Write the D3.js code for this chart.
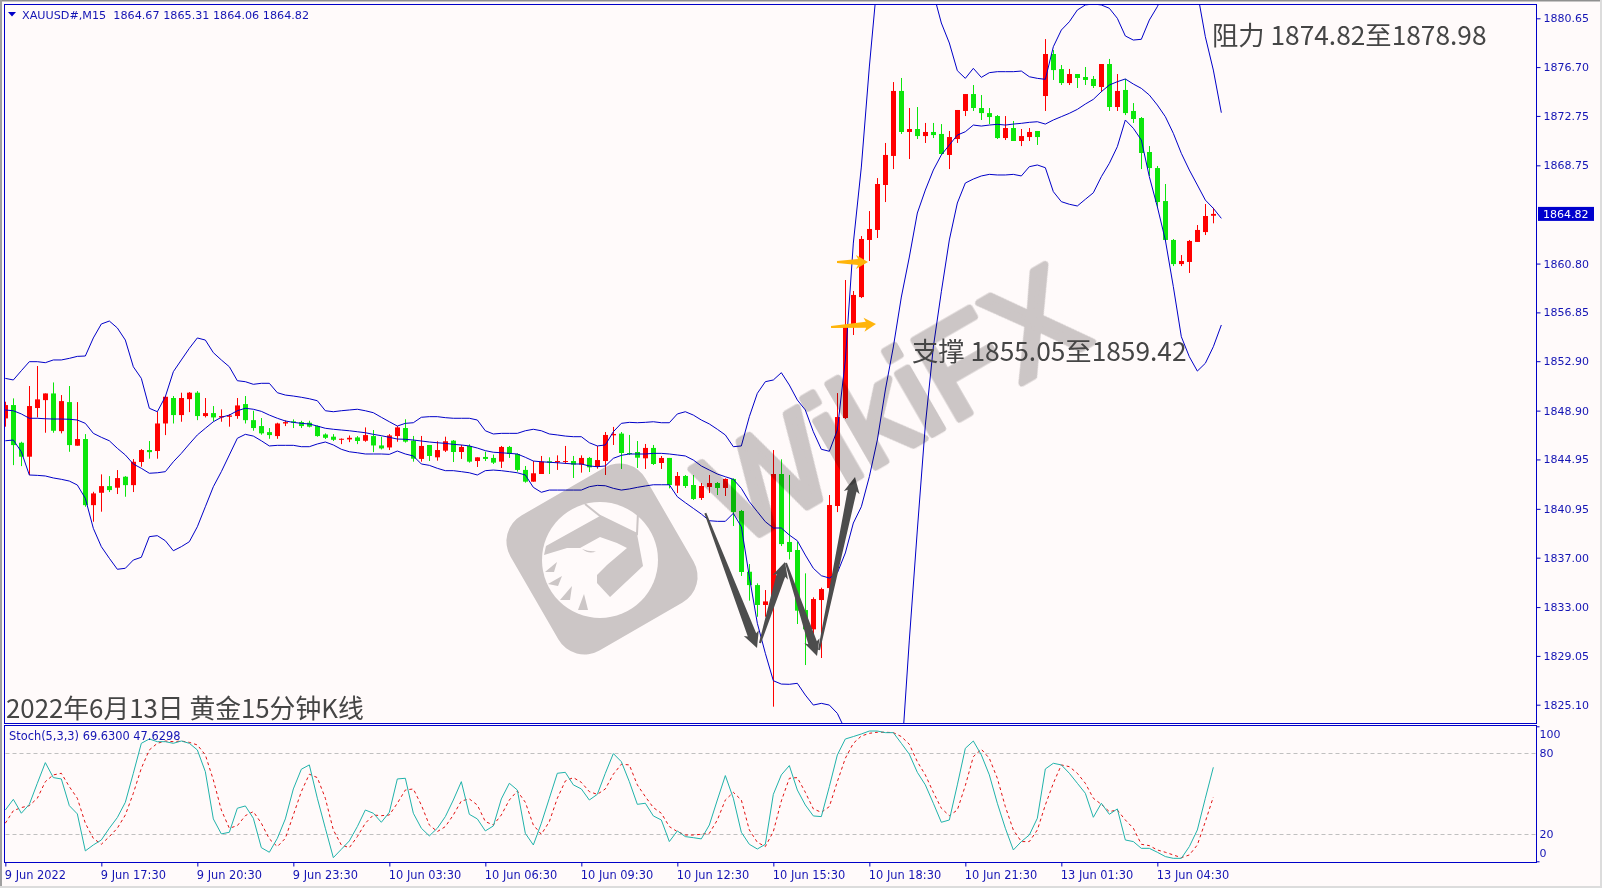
<!DOCTYPE html>
<html lang="en">
  <head>
    <meta charset="UTF-8">
    <script src="https://cdn.jsdelivr.net/npm/d3@7/dist/d3.min.js"></script>
    <title>XAUUSD M15</title>
    <style>
    html, body { margin: 0; padding: 0; background: #fffafa; overflow: hidden; }
    .axis text { font-family: "DejaVu Sans", sans-serif; font-size: 11px; fill: #1414b4; }
    .axis line { stroke: #0000c0; }
    .axis path { display: none; }
    .time text { font-size: 11.4px; }
    .note { font-family: "Noto Sans CJK SC", sans-serif; fill: #454545; }
    </style>
  </head>
  <body>
    <div id="chart"></div>
    <script>

// open, high, low, close per 15 minute bar
const candles = [
  [1848.27,1849.62,1847.60,1849.35],[1849.35,1849.89,1844.49,1846.11],[1846.30,1846.38,1844.41,1845.17],[1845.17,1850.89,1843.68,1849.27],
  [1849.11,1852.51,1848.35,1849.81],[1849.75,1850.29,1847.11,1850.29],[1850.29,1851.18,1847.11,1847.27],[1847.24,1850.16,1847.06,1849.67],
  [1849.59,1850.89,1845.57,1846.11],[1846.06,1849.59,1846.06,1846.60],[1846.60,1847.00,1841.12,1841.25],[1841.25,1842.33,1839.91,1842.20],
  [1842.25,1843.74,1840.72,1842.79],[1842.79,1843.60,1842.31,1842.47],[1842.66,1844.09,1842.15,1843.44],[1843.55,1843.60,1841.93,1842.87],
  [1842.87,1844.98,1842.31,1844.76],[1844.74,1845.79,1844.36,1845.71],[1845.71,1846.44,1845.01,1845.54],[1845.63,1848.81,1845.01,1847.86],
  [1847.86,1850.08,1846.92,1850.02],[1849.92,1850.08,1847.86,1848.54],[1848.54,1850.35,1848.00,1849.92],[1849.83,1850.40,1848.78,1850.35],
  [1850.35,1850.48,1848.13,1848.46],[1848.46,1849.92,1848.35,1848.70],[1848.70,1849.27,1848.03,1848.35],[1848.35,1849.00,1848.00,1848.46],
  [1848.40,1848.62,1847.60,1848.51],[1848.46,1849.92,1848.24,1849.32],[1849.43,1850.08,1847.86,1848.13],[1848.13,1848.89,1847.27,1847.49],
  [1847.65,1848.30,1846.95,1847.06],[1847.16,1847.49,1846.62,1846.92],[1846.84,1847.92,1846.62,1847.86],[1847.86,1848.11,1847.65,1847.97],
  [1848.03,1848.19,1847.49,1847.92],[1847.97,1848.08,1847.49,1847.65],[1847.92,1848.08,1847.54,1847.60],[1847.65,1847.70,1846.79,1846.84],
  [1846.97,1847.06,1846.60,1846.70],[1846.79,1847.00,1846.44,1846.54],[1846.57,1846.65,1846.19,1846.62],[1846.57,1846.89,1846.35,1846.70],
  [1846.73,1846.84,1846.19,1846.44],[1846.46,1847.54,1846.38,1846.92],[1846.84,1847.33,1845.54,1846.08],[1846.08,1846.79,1845.76,1845.84],
  [1845.92,1847.00,1845.71,1846.89],[1846.84,1847.65,1846.38,1847.54],[1847.49,1848.20,1846.31,1846.39],[1846.47,1846.85,1844.77,1845.01],
  [1844.99,1846.85,1844.77,1846.04],[1846.12,1846.12,1844.82,1845.23],[1845.12,1846.42,1844.85,1845.71],[1845.66,1846.79,1845.55,1846.42],
  [1846.47,1846.52,1844.74,1845.55],[1845.55,1846.12,1844.99,1845.96],[1846.04,1846.17,1844.69,1844.77],[1844.82,1845.12,1844.34,1845.12],
  [1845.15,1845.58,1844.82,1844.99],[1845.07,1845.34,1844.58,1844.69],[1844.77,1846.04,1844.26,1845.96],[1845.96,1846.04,1845.07,1845.39],
  [1845.39,1845.44,1843.96,1844.10],[1844.10,1844.42,1843.07,1843.15],[1843.15,1844.82,1843.15,1843.83],[1843.77,1845.23,1843.77,1844.77],
  [1844.80,1845.12,1843.77,1844.69],[1844.72,1845.28,1844.10,1844.82],[1844.74,1846.04,1844.58,1844.82],[1844.82,1845.23,1843.45,1844.53],
  [1844.53,1845.28,1843.88,1845.07],[1845.07,1845.15,1843.93,1844.31],[1844.37,1846.04,1844.20,1844.90],[1844.82,1847.17,1843.69,1846.93],
  [1846.90,1847.58,1846.12,1847.01],[1847.04,1847.17,1844.18,1845.47],[1845.47,1846.93,1845.31,1845.39],[1845.55,1846.44,1844.26,1845.09],
  [1845.04,1846.20,1844.18,1845.88],[1845.88,1846.12,1844.50,1844.58],[1844.66,1845.23,1844.18,1845.07],[1845.07,1845.07,1842.61,1842.88],
  [1842.83,1843.93,1842.23,1843.61],[1843.61,1843.69,1842.64,1842.80],[1842.88,1843.69,1841.67,1841.75],[1841.83,1843.04,1841.67,1842.80],
  [1842.72,1843.69,1842.23,1843.04],[1843.04,1843.12,1842.07,1842.64],[1842.64,1843.42,1841.99,1843.37],[1843.37,1843.42,1839.56,1840.70],
  [1840.78,1840.86,1835.52,1835.84],[1835.86,1836.48,1833.52,1834.78],[1834.78,1834.92,1832.22,1833.17],[1833.17,1834.38,1832.22,1833.46],
  [1833.44,1845.71,1824.94,1843.77],[1843.77,1844.96,1837.94,1838.10],[1838.27,1843.69,1836.86,1837.46],[1837.62,1838.27,1831.63,1832.71],
  [1832.76,1835.73,1828.31,1831.20],[1831.20,1833.79,1830.33,1833.65],[1833.57,1834.57,1828.88,1834.46],[1834.54,1842.07,1834.11,1841.26],
  [1841.18,1850.32,1840.69,1848.38],[1848.30,1859.47,1848.22,1855.67],[1855.83,1858.58,1855.02,1858.26],[1858.09,1863.03,1858.01,1862.79],
  [1862.71,1865.05,1861.01,1863.60],[1863.52,1867.72,1862.87,1867.24],[1867.16,1870.56,1865.78,1869.59],[1869.51,1875.49,1868.45,1874.77],
  [1874.77,1875.82,1871.29,1871.45],[1871.45,1873.39,1869.26,1871.69],[1871.69,1873.47,1870.88,1871.12],[1871.12,1872.18,1870.56,1871.45],
  [1871.45,1872.18,1870.96,1871.20],[1871.29,1872.09,1869.59,1869.67],[1869.59,1871.53,1868.45,1871.04],[1870.88,1873.23,1870.56,1873.23],
  [1873.15,1874.52,1872.74,1874.52],[1874.52,1875.25,1873.15,1873.39],[1873.39,1874.44,1872.42,1872.98],[1872.98,1873.39,1872.09,1872.66],
  [1872.74,1872.82,1870.88,1870.96],[1870.96,1872.74,1870.80,1871.77],[1871.77,1872.34,1870.72,1870.72],[1870.72,1871.69,1870.31,1871.12],
  [1871.04,1871.77,1870.72,1871.45],[1871.53,1871.53,1870.40,1871.04],[1874.36,1878.97,1873.15,1877.76],[1877.76,1878.08,1875.66,1876.46],
  [1876.54,1876.87,1875.25,1875.41],[1875.41,1876.55,1875.25,1876.14],[1876.14,1876.14,1875.01,1875.82],[1875.90,1876.71,1875.25,1875.66],
  [1875.74,1875.98,1875.01,1875.17],[1875.09,1876.95,1874.68,1876.95],[1876.95,1877.36,1873.15,1873.47],[1873.47,1876.14,1873.15,1874.77],
  [1874.85,1875.74,1872.82,1872.98],[1873.15,1873.79,1872.18,1872.50],[1872.58,1872.66,1868.45,1869.75],[1869.83,1870.31,1867.89,1868.53],
  [1868.53,1868.70,1865.30,1865.78],[1865.86,1867.24,1862.63,1862.71],[1862.71,1862.79,1860.60,1860.76],[1860.76,1861.49,1860.60,1861.01],
  [1860.93,1862.71,1860.04,1862.63],[1862.55,1863.92,1862.55,1863.52],[1863.35,1865.62,1863.11,1864.65],[1864.67,1865.31,1864.06,1864.82]
];

// Bollinger bands, shifted one bar forward so they run to index 152
const upperBand = [
  1851.51,1851.38,1852.13,1852.86,1852.86,1852.78,1853.00,1853.00,1853.13,1853.29,1853.32,1854.78,1855.91,1856.15,1855.59,1854.61,
  1852.45,1851.51,1849.09,1848.81,1850.03,1852.05,1853.00,1853.94,1854.78,1854.61,1853.59,1853.00,1852.45,1851.32,1851.24,1851.03,
  1851.11,1851.11,1850.35,1850.16,1850.08,1849.98,1849.86,1849.70,1848.89,1848.81,1848.89,1848.95,1849.01,1848.89,1848.73,1848.36,
  1848.00,1847.65,1847.87,1847.92,1848.36,1848.41,1848.41,1848.33,1848.28,1848.28,1848.28,1848.14,1847.27,1847.01,1847.06,1847.06,
  1847.06,1847.27,1847.39,1847.27,1847.01,1846.93,1846.84,1846.79,1846.79,1846.30,1846.04,1846.12,1847.19,1847.87,1847.95,1847.92,
  1847.95,1848.00,1847.92,1847.92,1848.63,1848.81,1848.54,1848.14,1847.82,1847.39,1846.93,1845.98,1846.04,1848.41,1850.30,1851.24,
  1851.38,1851.97,1850.97,1849.76,1848.95,1847.19,1845.77,1845.61,1847.33,1853.00,1862.46,1868.61,1876.71,1883.75,1890,1897,
  1902,1903,1898,1890,1882.70,1880.27,1878.65,1876.41,1875.79,1876.60,1875.87,1876.25,1876.33,1876.33,1876.33,1876.38,
  1875.92,1875.79,1875.71,1878.35,1879.70,1880.37,1881.32,1881.73,1881.81,1881.73,1881.46,1880.65,1879.22,1878.89,1878.95,1880.51,
  1881.59,1882.94,1884.80,1885.93,1885.61,1882.78,1879.16,1876.46,1873.01
];
const middleBand = [
  1848.95,1848.89,1848.63,1848.28,1848.28,1848.24,1848.22,1848.22,1848.20,1848.14,1847.87,1847.06,1846.74,1846.46,1845.85,1845.31,
  1844.58,1844.23,1843.83,1843.87,1843.96,1844.76,1845.44,1846.20,1846.93,1847.47,1848.00,1848.36,1848.54,1848.89,1849.09,1849.01,
  1848.84,1848.54,1848.28,1848.06,1847.95,1847.87,1847.82,1847.65,1847.47,1847.39,1847.33,1847.27,1847.19,1847.11,1846.98,1846.87,
  1846.74,1846.60,1846.58,1846.52,1846.44,1846.36,1846.30,1846.25,1846.17,1846.12,1846.04,1845.87,1845.66,1845.53,1845.49,1845.44,
  1845.39,1845.12,1844.82,1844.76,1844.72,1844.68,1844.63,1844.58,1844.58,1844.42,1844.36,1844.42,1845.04,1845.28,1845.39,1845.39,
  1845.39,1845.44,1845.44,1845.39,1845.31,1845.23,1844.90,1844.42,1844.09,1843.77,1843.55,1843.34,1842.61,1841.53,1840.72,1839.91,
  1839.40,1839.40,1838.83,1838.37,1837.21,1836.14,1835.54,1835.35,1835.76,1837.38,1839.80,1841.12,1843.55,1846.52,1850.57,1854.05,
  1858.09,1861.33,1864.89,1866.75,1868.37,1869.59,1870.40,1871.20,1871.47,1872.01,1871.93,1872.01,1872.07,1872.01,1872.09,1872.15,
  1872.23,1872.28,1872.09,1872.42,1872.69,1872.96,1873.28,1873.71,1874.09,1874.71,1875.25,1875.52,1875.74,1875.33,1874.98,1874.44,
  1873.63,1872.69,1871.34,1869.72,1868.37,1867.16,1865.94,1865.27,1864.46
];
const lowerBand = [
  1846.46,1846.52,1845.57,1843.69,1843.66,1843.61,1843.45,1843.34,1843.20,1842.88,1841.80,1839.37,1837.89,1836.95,1836.06,1836.14,
  1836.81,1837.03,1838.70,1838.78,1838.37,1837.56,1837.89,1838.29,1839.50,1841.12,1842.74,1843.96,1845.31,1846.66,1846.98,1846.84,
  1846.46,1846.04,1846.09,1846.09,1846.09,1845.98,1845.98,1846.20,1846.36,1846.12,1845.77,1845.57,1845.49,1845.39,1845.39,1845.39,
  1845.36,1845.63,1845.39,1845.23,1844.58,1844.47,1844.23,1844.04,1844.04,1843.96,1843.87,1843.69,1844.04,1844.09,1844.04,1843.96,
  1843.87,1843.69,1842.69,1842.29,1842.47,1842.47,1842.47,1842.47,1842.47,1842.74,1842.85,1842.82,1842.61,1842.47,1842.56,1842.69,
  1842.80,1842.90,1842.90,1842.90,1841.93,1841.45,1840.99,1840.53,1839.99,1839.94,1839.94,1840.59,1839.50,1835.46,1831.69,1829.26,
  1827.04,1826.77,1826.75,1826.83,1825.88,1825.07,1825.21,1825.07,1824.40,1823.05,1821.84,1820.62,1819.00,1818.20,1817.39,1817.39,
  1820.62,1830.33,1839.24,1847.73,1854.05,1858.52,1862.71,1865.70,1867.32,1867.64,1867.89,1868.02,1867.97,1867.97,1868.02,1867.89,
  1868.64,1868.78,1868.56,1866.62,1865.81,1865.60,1865.46,1866.00,1866.53,1867.83,1868.91,1870.26,1872.42,1871.75,1870.80,1867.83,
  1865.40,1862.71,1858.93,1854.88,1853.26,1852.10,1852.73,1854.07,1855.83
];

// Stochastic %K and %D
const stochMain = [
  38.0,45.9,35.6,42.2,57.8,73.1,62.0,61.0,41.2,35.1,7.7,12.1,15.8,24.5,32.4,43.7,65.2,87.4,90.6,88.6,88.6,87.4,89.1,87.4,82.5,66.4,
  31.4,20.3,21.5,39.3,41.0,31.9,10.1,6.7,17.0,31.4,53.6,68.2,71.4,46.7,24.5,2.7,8.9,15.1,25.7,38.0,35.6,28.9,36.3,61.0,61.5,35.6,
  24.5,18.8,24.5,33.1,45.4,59.0,34.8,31.4,22.5,26.2,46.2,57.8,52.8,20.7,12.1,28.2,46.7,65.2,65.9,56.6,53.6,45.4,49.6,65.2,79.8,73.8,
  59.0,42.2,43.0,33.6,30.6,14.6,22.5,18.3,17.5,16.6,26.9,45.4,63.5,46.7,21.5,12.6,9.1,12.6,49.6,64.0,70.9,52.8,41.7,33.6,33.1,55.3,78.8,
  90.6,92.4,94.3,96.5,96.5,95.3,95.3,87.4,79.3,65.9,56.6,43.0,28.9,30.6,56.6,83.7,89.1,78.8,64.0,43.0,24.5,8.4,14.6,19.5,31.9,68.4,
  72.6,71.4,65.2,57.8,50.4,32.6,43.0,34.8,38.8,15.8,14.6,9.6,9.6,6.7,3.5,2.2,2.2,10.9,23.2,46.7,69.63
];
const stochSignal = [
  28.2,37.5,39.8,41.2,46.7,59.0,64.0,65.2,55.3,46.7,28.2,17.0,12.6,18.3,24.5,34.3,50.4,68.9,82.5,87.4,89.1,88.6,89.1,88.1,86.2,78.8,
  60.3,38.0,24.5,26.4,33.8,36.8,28.2,16.6,10.9,17.0,34.3,51.6,64.5,62.0,46.7,23.2,12.1,10.1,18.3,28.2,34.3,33.8,34.3,43.0,52.8,53.6,
  41.7,26.9,22.0,25.7,34.3,44.7,46.2,41.7,29.4,26.9,34.3,45.4,52.1,43.7,26.9,20.0,29.4,46.7,59.5,62.0,58.5,51.6,49.6,53.6,64.5,71.9,
  71.4,56.6,47.9,39.8,35.6,25.7,22.0,19.5,19.5,20.0,20.7,30.6,45.4,51.1,45.4,23.2,14.1,10.9,22.0,44.7,61.5,62.0,51.1,38.8,36.3,40.5,59.0,
  76.3,87.4,92.8,94.8,95.6,95.6,95.3,92.4,86.7,73.8,64.0,51.1,39.3,33.8,38.0,56.1,77.5,83.0,76.3,61.5,40.5,23.2,14.6,14.6,23.2,41.7,
  57.8,71.4,70.1,65.2,57.8,46.7,42.2,36.8,38.0,30.6,24.5,12.6,11.6,8.4,6.7,4.7,2.7,4.7,12.1,29.4,47.63
];

const priceTicks = [1880.65,1876.70,1872.75,1868.75,1860.80,1856.85,1852.90,1848.90,1844.95,1840.95,1837.00,1833.00,1829.05,1825.10];
const timeLabels = ["9 Jun 2022","9 Jun 17:30","9 Jun 20:30","9 Jun 23:30","10 Jun 03:30","10 Jun 06:30","10 Jun 09:30",
                    "10 Jun 12:30","10 Jun 15:30","10 Jun 18:30","10 Jun 21:30","13 Jun 01:30","13 Jun 04:30"];
const stochTicks = [100, 80, 20, 0];
const stochLevels = [80, 20];
const lastPrice = 1864.82;

// hand drawn arrows: [bar, price, bar, price]
const darkArrows = [
  [87.5,1840.61,93.96,1829.69],
  [94.33,1830.09,97.46,1836.65],
  [97.58,1836.57,101.46,1829.04],
  [101.71,1829.53,106.21,1843.53]
];
const goldArrows = [
  [103.96,1860.93,107.83,1860.93],
  [103.21,1855.67,108.83,1855.91]
];

const width  = 1602;
const height = 888;

const plot  = { left: 4.5, right: 1536.5, top: 4.5, bottom: 723.5 };
const lower = { top: 725.5, bottom: 862.5 };

const blue = "#0000c8";

const x = d3.scaleLinear().domain([0, 152]).range([5.33, 1221.33]);
const y = d3.scaleLinear().domain([1825.10, 1880.65]).range([704.7, 18.3]);
const yStoch = d3.scaleLinear().domain([0, 100]).range([861.3, 726.3]);

const svg = d3.select("#chart").append("svg")
  .attr("width", width)
  .attr("height", height)
  .attr("viewBox", [0, 0, width, height])
  .style("display", "block");

// window edges
svg.append("rect").attr("width", width).attr("height", height).attr("fill", "#fffafa");
svg.append("rect").attr("width", width).attr("height", 1.5).attr("fill", "#8f8f8f");
svg.append("rect").attr("width", 2).attr("height", height).attr("fill", "#a0a0a0");
svg.append("rect").attr("y", 886).attr("width", width).attr("height", 2).attr("fill", "#dcdcdc");
svg.append("rect").attr("x", 1600).attr("width", 2).attr("height", height).attr("fill", "#dcdcdc");

svg.append("clipPath").attr("id", "mainClip").append("rect")
  .attr("x", plot.left + 0.5)
  .attr("y", plot.top + 0.5)
  .attr("width", plot.right - plot.left - 1)
  .attr("height", plot.bottom - plot.top - 1);

const main = svg.append("g").attr("clip-path", "url(#mainClip)");

// candles
const candle = main.append("g").selectAll("g")
  .data(candles)
  .join("g")
  .attr("fill", d => d[3] >= d[0] ? "#ff0000" : "#0ce60c");

candle.append("rect")
  .attr("x", (d, i) => Math.floor(x(i)))
  .attr("width", 1)
  .attr("y", d => y(d[1]))
  .attr("height", d => y(d[2]) - y(d[1]));

candle.append("rect")
  .attr("x", (d, i) => Math.floor(x(i)) - 2)
  .attr("width", 5)
  .attr("y", d => y(Math.max(d[0], d[3])))
  .attr("height", d => Math.max(1, Math.abs(y(d[0]) - y(d[3]))));

// bands
const bandLine = d3.line().x((d, i) => x(i)).y(d => y(d));
main.append("g").selectAll("path")
  .data([upperBand, middleBand, lowerBand])
  .join("path")
  .attr("d", bandLine)
  .attr("fill", "none")
  .attr("stroke", blue)
  .attr("stroke-width", 1);

// tapered arrow from a narrow tail to a head
function arrowPath(a, shaft, headLen, headWid) {
  const x0 = x(a[0]), y0 = y(a[1]), x1 = x(a[2]), y1 = y(a[3]);
  const len = Math.hypot(x1 - x0, y1 - y0);
  const ux = (x1 - x0) / len, uy = (y1 - y0) / len;
  const nx = -uy, ny = ux;
  const bx = x1 - ux * headLen, by = y1 - uy * headLen;
  const p = [
    [x0 + nx, y0 + ny],
    [bx + nx * shaft, by + ny * shaft],
    [bx + nx * headWid - ux * 2, by + ny * headWid - uy * 2],
    [x1, y1],
    [bx - nx * headWid - ux * 2, by - ny * headWid - uy * 2],
    [bx - nx * shaft, by - ny * shaft],
    [x0 - nx, y0 - ny]
  ];
  return "M" + p.map(q => q.join(",")).join("L") + "Z";
}

svg.append("g").selectAll("path")
  .data(darkArrows)
  .join("path")
  .attr("d", d => arrowPath(d, 4.5, 14, 8))
  .attr("fill", "#4d4d4d");

svg.append("g").selectAll("path")
  .data(goldArrows)
  .join("path")
  .attr("d", d => arrowPath(d, 3, 10, 7))
  .attr("fill", "#ffb40a");

// watermark
const mark = svg.append("g").style("mix-blend-mode", "multiply").attr("opacity", 0.95);
const markGray = "#c9c7c7";

mark.append("g").attr("transform", "translate(602,559) rotate(-30)")
  .append("rect")
  .attr("x", -78).attr("y", -78)
  .attr("width", 156).attr("height", 156)
  .attr("rx", 30)
  .attr("fill", markGray);

const badge = mark.append("g").attr("transform", "translate(600,560)");
badge.append("circle").attr("r", 58).attr("fill", "#ffffff");
// aperture and the dark ground round the eagle head
badge.append("path")
  .attr("d", "M-54,-14 L0,-44 L37,-26 L43,6 L10,37 L-3,23 L-3,15 L7,5 L27,-12 L17,-17 L0,-23 L-20,-12 L-33,-12 L-56,-5 Z")
  .attr("fill", markGray);
badge.append("path").attr("d", "M-15,-56 L0,-44 L37,-26 L38,-48")
  .attr("fill", "none").attr("stroke", markGray).attr("stroke-width", 2);
// feathers
badge.append("path")
  .attr("d", "M-55,12 L-43,2 L-46,12 Z M-52,24 L-38,16 L-42,26 Z M-40,40 L-28,26 L-30,40 Z M-22,50 L-16,34 L-12,50 Z M-18,-11 Q-10,-5 -4,-9 Q-10,-8 -18,-11 Z")
  .attr("fill", markGray);

mark.append("text")
  .attr("transform", "translate(736,548) rotate(-30)")
  .attr("font-family", "Liberation Sans, sans-serif")
  .attr("font-size", 131)
  .attr("fill", markGray)
  .attr("stroke", markGray)
  .attr("stroke-width", 7)
  .attr("stroke-linejoin", "round")
  .text("WikiFX");

// panel frames
svg.append("rect")
  .attr("x", plot.left).attr("y", plot.top)
  .attr("width", plot.right - plot.left).attr("height", plot.bottom - plot.top)
  .attr("fill", "none").attr("stroke", blue);
svg.append("rect")
  .attr("x", plot.left).attr("y", lower.top)
  .attr("width", plot.right - plot.left).attr("height", lower.bottom - lower.top)
  .attr("fill", "none").attr("stroke", blue);

// stochastic
svg.append("g").selectAll("line")
  .data(stochLevels)
  .join("line")
  .attr("x1", plot.left + 1).attr("x2", plot.right)
  .attr("y1", d => Math.round(yStoch(d)) + 0.5).attr("y2", d => Math.round(yStoch(d)) + 0.5)
  .attr("stroke", "#c0c0c0")
  .attr("stroke-dasharray", "4,3");

const stochLine = d3.line().x((d, i) => x(i)).y(d => yStoch(d));
svg.append("path").datum(stochSignal)
  .attr("d", stochLine)
  .attr("fill", "none")
  .attr("stroke", "#e01010")
  .attr("stroke-dasharray", "3,3");
svg.append("path").datum(stochMain)
  .attr("d", stochLine)
  .attr("fill", "none")
  .attr("stroke", "#20b2aa");

// axes
svg.append("g")
  .attr("class", "axis")
  .attr("transform", `translate(${plot.right},0)`)
  .call(d3.axisRight(y).tickValues(priceTicks).tickFormat(d3.format(".2f")).tickSize(4).tickPadding(3));

const stochAxis = svg.append("g")
  .attr("class", "axis")
  .attr("transform", `translate(${plot.right},0)`)
  .call(d3.axisRight(yStoch).tickValues(stochTicks).tickFormat(d => d).tickSize(3).tickPadding(0));
stochAxis.selectAll(".tick").filter(d => d === 80 || d === 20).select("line").remove();
stochAxis.selectAll(".tick text").attr("dy", d => d === 100 ? "1.05em" : d === 0 ? "-0.4em" : "0.32em");

const timeAxis = svg.append("g")
  .attr("class", "axis time")
  .attr("transform", `translate(0,${lower.bottom})`)
  .call(d3.axisBottom(x)
    .tickValues(timeLabels.map((d, i) => i * 12))
    .tickFormat((d, i) => timeLabels[i])
    .tickSize(4)
    .tickPadding(4));
timeAxis.selectAll(".tick text").attr("text-anchor", "start").attr("dx", -1);

// last price tag
svg.append("rect")
  .attr("x", 1538).attr("y", y(lastPrice) - 7)
  .attr("width", 56).attr("height", 14)
  .attr("fill", "#0000cd");
svg.append("text")
  .attr("x", 1543).attr("y", y(lastPrice) + 4.5)
  .attr("font-family", "DejaVu Sans, sans-serif")
  .attr("font-size", 11)
  .attr("fill", "#ffffff")
  .text(d3.format(".2f")(lastPrice));

// panel captions
svg.append("path").attr("d", "M8,12 L16,12 L12,16.5 Z").attr("fill", blue);
svg.append("text").attr("x", 22).attr("y", 19)
  .attr("font-family", "DejaVu Sans, sans-serif").attr("font-size", 11.2).attr("fill", "#1414b4")
  .attr("xml:space", "preserve").style("white-space", "pre")
  .text("XAUUSD#,M15  1864.67 1865.31 1864.06 1864.82");
svg.append("text").attr("x", 9).attr("y", 740)
  .attr("font-family", "DejaVu Sans, sans-serif").attr("font-size", 11.4).attr("fill", "#1414b4")
  .text("Stoch(5,3,3) 69.6300 47.6298");

// notes
svg.append("text").attr("class", "note").attr("x", 6).attr("y", 718).attr("font-size", 25.8).text("2022年6月13日 黄金15分钟K线");
svg.append("text").attr("class", "note").attr("x", 912).attr("y", 361).attr("font-size", 26.3).text("支撑 1855.05至1859.42");
svg.append("text").attr("class", "note").attr("x", 1212).attr("y", 45).attr("font-size", 26.3).text("阻力 1874.82至1878.98");

    </script>
  </body>
</html>
